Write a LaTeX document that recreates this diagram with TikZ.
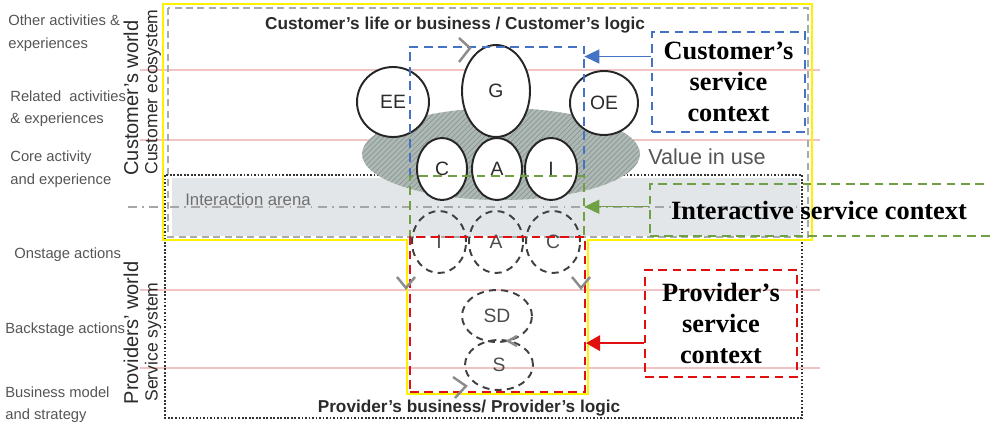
\documentclass[tikz,border=0pt]{standalone}
\usepackage{fontspec}
\setmainfont{Liberation Sans}
\newfontfamily\ctxfont{Liberation Serif}
\usetikzlibrary{shapes.geometric,arrows.meta,patterns,fit,calc}

\definecolor{ctxblue}{HTML}{4472C4}
\definecolor{ctxgreen}{HTML}{70A044}
\definecolor{ctxred}{HTML}{E01010}
\definecolor{levelpink}{HTML}{F0C4C4}
\definecolor{arenagray}{HTML}{E3E6E9}
\definecolor{ecogray}{HTML}{A4ACAC}
\definecolor{valgray}{HTML}{AEB8B4}
\definecolor{valhatch}{HTML}{8A9692}
\definecolor{lblgray}{HTML}{555555}
\definecolor{titlegray}{HTML}{2B2B2B}
\definecolor{chevgray}{HTML}{8C8C8C}
\definecolor{markyellow}{HTML}{FFF200}

\tikzset{
    level_line/.style={draw=levelpink, line width=0.8pt},
    eco_frame/.style={draw=ecogray, line width=0.9pt, dash pattern=on 4pt off 2.5pt},
    sys_frame/.style={draw=black!80, line width=1.3pt, dash pattern=on 1pt off 1pt},
    arena_line/.style={draw=gray!70, line width=0.6pt, dash pattern=on 5pt off 3pt on 1pt off 3pt},
    yellow_line/.style={draw=markyellow, line width=1.5pt},
    blue_dash/.style={draw=ctxblue, line width=1.1pt, dash pattern=on 5pt off 3.2pt},
    green_dash/.style={draw=ctxgreen, line width=1.1pt, dash pattern=on 5pt off 3.2pt},
    red_dash/.style={draw=ctxred, line width=1.2pt, dash pattern=on 5pt off 3.2pt},
    ctx_arrow/.style={line width=0.8pt, -{Triangle[length=8.5pt,width=8pt]}},
    ctx_lbl/.style={font=\ctxfont\bfseries\fontsize{15}{17.6}\selectfont, align=center, inner sep=0},
    lvl_lbl/.style={font=\fontsize{8.4}{12.8}\selectfont, text=lblgray, align=left, anchor=west, inner sep=0},
    world_lbl/.style={rotate=90, font=\fontsize{11.4}{13}\selectfont, text=titlegray, inner sep=0},
    sub_lbl/.style={rotate=90, font=\fontsize{10}{12}\selectfont, text=titlegray, inner sep=0},
    logic_lbl/.style={font=\bfseries\fontsize{9.8}{12}\selectfont, text=titlegray, inner sep=0},
    solid_circ/.style={ellipse, draw=black!85, line width=1.1pt, fill=white, inner sep=0,
        font=\fontsize{11}{12}\selectfont, text=titlegray},
    dash_circ/.style={ellipse, draw=black!75, line width=1.1pt, dash pattern=on 4pt off 3pt, inner sep=0,
        font=\fontsize{11}{12}\selectfont, text=black!70},
    chevron/.style={draw=chevgray, line width=1.4pt},
}

\begin{document}
\begin{tikzpicture}[x=0.02cm, y=-0.02cm]

    \useasboundingbox (0,0) rectangle (990,426);
    \clip (0,0) rectangle (990,426);

    % Level lines
    \foreach \y in {70,140,290,368}
        \draw[level_line] (140,\y) -- (820,\y);

    % Interaction arena
    \fill[arenagray] (172,178) rectangle (800,236);
    \draw[eco_frame] (168,8) rectangle (808,237);
    \draw[arena_line] (128,207) -- (800,207);

    % Service system
    \draw[sys_frame] (165,175) rectangle (802,418);

    % Value in use
    \node[ellipse,
        draw=none,
        preaction={fill=valgray},
        pattern=north east lines,
        pattern color=valhatch,
        minimum width=5.56cm,
        minimum height=1.84cm] (viu_ell) at (501,154) {};

    % Circles with labels
    \node[solid_circ, minimum width=1.44cm, minimum height=1.40cm] (ee_circ) at (393,102) {EE};
    \node[solid_circ, minimum width=1.36cm, minimum height=1.84cm] (g_circ) at (496,91) {G};
    \node[solid_circ, minimum width=1.36cm, minimum height=1.28cm] (oe_circ) at (604,103) {OE};
    \node[solid_circ, minimum width=1.00cm, minimum height=1.24cm] (c_circ) at (442,169) {C};
    \node[solid_circ, minimum width=1.00cm, minimum height=1.24cm] (a_circ) at (497,169) {A};
    \node[solid_circ, minimum width=1.04cm, minimum height=1.24cm] (i_circ) at (551,169) {I};

    % Dashed circles with labels
    \node[dash_circ, minimum width=1.08cm, minimum height=1.24cm] (i_dcirc) at (439,242) {I};
    \node[dash_circ, minimum width=1.08cm, minimum height=1.24cm] (a_dcirc) at (496,242) {A};
    \node[dash_circ, minimum width=1.08cm, minimum height=1.24cm] (c_dcirc) at (553,242) {C};
    \node[dash_circ, minimum width=1.40cm, minimum height=1.04cm] (sd_circ) at (497,316) {SD};
    \node[dash_circ, minimum width=1.36cm, minimum height=1.00cm] (s_circ) at (499,365) {S};

    % Yellow outline
    \draw[yellow_line] (163,4) -- (812,4) -- (812,240) -- (588,240)
        -- (588,394) -- (407,394) -- (407,240) -- (163,240) -- cycle;

    % Service contexts
    \node[fit={(410,47) (584,176)}, inner sep=0] (cust_ctx) {};
    \draw[blue_dash] (cust_ctx.south west) |- (cust_ctx.north east) -- (cust_ctx.south east);
    \node[fit={(410,176) (584,238)}, inner sep=0] (inter_ctx) {};
    \draw[green_dash] (inter_ctx.south west) |- (inter_ctx.north east) -- (inter_ctx.south east);
    \node[red_dash, fit={(410,237) (585,392)}, inner sep=0] (prov_ctx) {};

    % Chevrons
    \draw[chevron] (459,38) -- (470,48) -- (459,62);
    \draw[chevron] (397,277) -- (406,288) -- (415,277);
    \draw[chevron] (572,277) -- (581,288) -- (590,277);
    \draw[chevron] (453,377) -- (466,386) -- (455,398);
    \draw[chevron] (517,336) -- (508,341) -- (517,346);

    % Context labels
    \node[ctx_lbl,
        blue_dash,
        minimum width=3.06cm,
        minimum height=2cm] (cust_lbl) at (728.5,82) {Customer’s\\service\\context};
    \node[green_dash, fit={(650,184) (1000,236)}, inner sep=0] (inter_lbl) {};
    \node[ctx_lbl] (inter_txt) at (819,210) {Interactive service context};
    \node[ctx_lbl,
        red_dash,
        minimum width=3.04cm,
        minimum height=2.14cm] (prov_lbl) at (721,323.5) {Provider’s\\service\\context};

    % Arrows
    \coordinate (cust_tail) at ($(cust_lbl.north west)!0.25!(cust_lbl.south west)$);
    \draw[ctx_arrow, ctxblue] (cust_tail) -- (cust_tail -| cust_ctx.east);
    \coordinate (inter_tail) at ($(inter_lbl.north west)!0.44!(inter_lbl.south west)$);
    \draw[ctx_arrow, ctxgreen] (inter_tail) -- (inter_tail -| inter_ctx.east);
    \coordinate (prov_tail) at ($(prov_lbl.north west)!0.68!(prov_lbl.south west)$);
    \draw[ctx_arrow, ctxred, -{Triangle[length=8pt,width=9pt]}] (prov_tail) -- (prov_tail -| prov_ctx.east);

    % Titles
    \node[logic_lbl] (cust_logic) at (455,25) {Customer's life or business / Customer's logic};
    \node[logic_lbl] (prov_logic) at (469,408) {Provider's business/ Provider's logic};
    \node[font=\fontsize{12.3}{14}\selectfont, text=lblgray, anchor=west, inner sep=0] (viu_txt) at (648,157) {Value in use};
    \node[font=\fontsize{9.5}{12}\selectfont, text=lblgray!85, anchor=west, inner sep=0] (arena_txt) at (185,200) {Interaction arena};

    % Worlds
    \node[world_lbl] (cust_world) at (131,98) {Customer's world};
    \node[sub_lbl] (cust_eco) at (153,92) {Customer ecosystem};
    \node[world_lbl] (prov_world) at (131,333) {Providers' world};
    \node[sub_lbl] (serv_sys) at (153,342) {Service system};

    % Levels
    \node[lvl_lbl] (lvl_other) at (8,33) {Other activities \&\\experiences};
    \node[lvl_lbl] (lvl_related) at (10,108.5) {Related\ \ activities\\\& experiences};
    \node[lvl_lbl] (lvl_core) at (10,169) {Core activity\\and experience};
    \node[lvl_lbl] (lvl_onstage) at (14,255) {Onstage actions};
    \node[lvl_lbl] (lvl_backstage) at (5,330) {Backstage actions};
    \node[lvl_lbl] (lvl_business) at (5,404.5) {Business model\\and strategy};

\end{tikzpicture}
\end{document}
